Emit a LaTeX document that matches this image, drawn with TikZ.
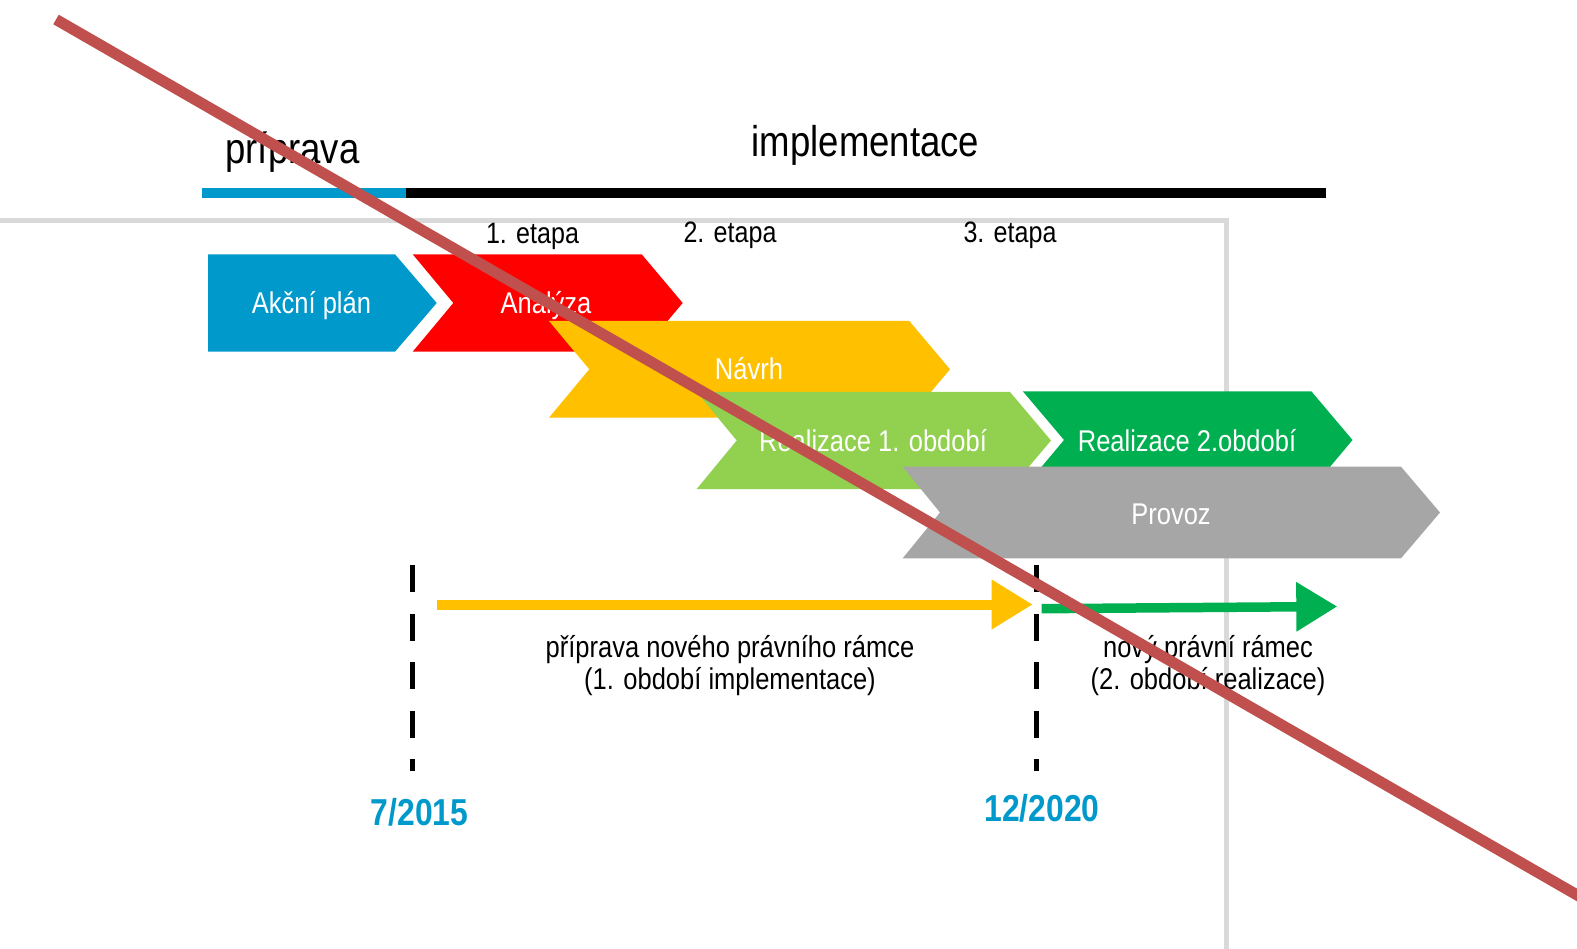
\documentclass[tikz,border=0pt]{standalone}
\usepackage{fontspec}
\setmainfont{Liberation Sans}
\newfontfamily\narrowf[FakeStretch=0.85]{Liberation Sans}
\usetikzlibrary{arrows.meta}
\definecolor{cblue}{HTML}{0099CC}
\definecolor{cred}{HTML}{FF0000}
\definecolor{cyellow}{HTML}{FFC000}
\definecolor{clgreen}{HTML}{92D050}
\definecolor{cgreen}{HTML}{00B050}
\definecolor{cgray}{HTML}{A6A6A6}
\definecolor{cframe}{HTML}{D9D9D9}
\definecolor{ccross}{HTML}{C0504D}
\definecolor{cdate}{HTML}{0099CC}
\tikzset{
  chevtxt/.style={text=white, font=\narrowf\fontsize{30}{36}\selectfont, anchor=base, inner sep=0pt},
  etapalbl/.style={font=\narrowf\fontsize{29.5}{34}\selectfont, anchor=base, inner sep=0pt},
  titlelbl/.style={font=\narrowf\fontsize{43}{50}\selectfont, anchor=base, inner sep=0pt},
  notelbl/.style={font=\narrowf\fontsize{30}{32}\selectfont, anchor=base, inner sep=0pt},
  datelbl/.style={font=\narrowf\bfseries\fontsize{37.5}{44}\selectfont, text=cdate, anchor=base, inner sep=0pt},
  milestone/.style={line width=5pt, dash pattern=on 27pt off 21.5pt},
  bararrow/.style={line width=10pt, -{Triangle[length=41pt,width=47pt]}},
  framestyle/.style={cframe, line width=5pt},
  crossstyle/.style={ccross, line width=11pt},
}
\begin{document}
\begin{tikzpicture}[x=1pt,y=-1pt]
\useasboundingbox (0,0) rectangle (1577,949);
\fill[white] (0,0) rectangle (1577,949);
% frame
\coordinate (fr0) at (0,220.5);
\coordinate (fr1) at (1226,220.5);
\coordinate (fr2) at (1226,952);
\draw[framestyle] (fr0) -- (fr1) -- (fr2);
% title bars
\coordinate (tb0) at (202,193);
\coordinate (tb1) at (406,193);
\coordinate (tb2) at (1326,193);
\draw[cblue, line width=10pt] (tb0) -- (tb1);
\draw[black, line width=10pt] (tb1) -- (tb2);
\node[titlelbl] (prip) at (292.5,163.3) {příprava};
\node[titlelbl] (impl) at (865.5,156.7) {implementace};
% etapy
\node[etapalbl] (e1) at (532.5,243.3) {1. etapa};
\node[etapalbl] (e2) at (730,243) {2. etapa};
\node[etapalbl] (e3) at (1010,242.3) {3. etapa};
% chevrons
\fill[cblue] (208,254.3) -- (395,254.3) -- (436.7,303) -- (395,351.7) -- (208,351.7) -- cycle;
\node[chevtxt] (akcni) at (311.5,313.3) {Akční plán};
\fill[cred] (412.7,254.3) -- (641.7,254.3) -- (682.7,303) -- (641.7,351.7) -- (412.7,351.7) -- (453.3,303) -- cycle;
\node[chevtxt] (analyza) at (546,313.3) {Analýza};
\fill[cyellow] (549,321) -- (909.3,321) -- (950,369.3) -- (909.3,417.7) -- (549,417.7) -- (589.3,369.3) -- cycle;
\node[chevtxt] (navrh) at (749,380) {Návrh};
\fill[clgreen] (696.7,392) -- (1010,392) -- (1051,440.5) -- (1010,489) -- (696.7,489) -- (736.7,440.5) -- cycle;
\node[chevtxt] (real1) at (873,451.5) {Realizace 1. období};
\fill[cgreen] (1023,391.5) -- (1311.5,391.5) -- (1352.5,440) -- (1311.5,489) -- (1023,489) -- (1064,440) -- cycle;
\node[chevtxt] (real2) at (1187,451) {Realizace 2.období};
\fill[cgray] (902.7,466.7) -- (1401,466.7) -- (1440,512.5) -- (1401,558.3) -- (902.7,558.3) -- (940,512.5) -- cycle;
\node[chevtxt] (provoz) at (1171,524) {Provoz};
% milestones
\coordinate (m1a) at (412.5,565);
\coordinate (m1b) at (412.5,771);
\coordinate (m2a) at (1036.5,565);
\coordinate (m2b) at (1036.5,771);
\draw[milestone] (m1a) -- (m1b);
\draw[milestone] (m2a) -- (m2b);
% arrows
\coordinate (ya0) at (436.5,604.5);
\coordinate (ya1) at (1032.7,604.5);
\draw[bararrow, cyellow] (ya0) -- (ya1);
\coordinate (ga0) at (1041.7,608.7);
\coordinate (ga1) at (1337.3,606.5);
\draw[bararrow, cgreen, line width=9.5pt] (ga0) -- (ga1);
% notes
\node[notelbl] (pnr1) at (730,657) {příprava nového právního rámce};
\node[notelbl] (pnr2) at (730,689) {(1. období implementace)};
\node[notelbl] (npr1) at (1208,657) {nový právní rámec};
\node[notelbl] (npr2) at (1208,689) {(2. období realizace)};
% dates
\node[datelbl] (d1) at (419.5,825) {7/2015};
\node[datelbl] (d2) at (1042,821.5) {12/2020};
% cross line
\coordinate (x0) at (56,19.5);
\coordinate (x1) at (1600,908.2);
\draw[crossstyle] (x0) -- (x1);
\end{tikzpicture}
\end{document}
